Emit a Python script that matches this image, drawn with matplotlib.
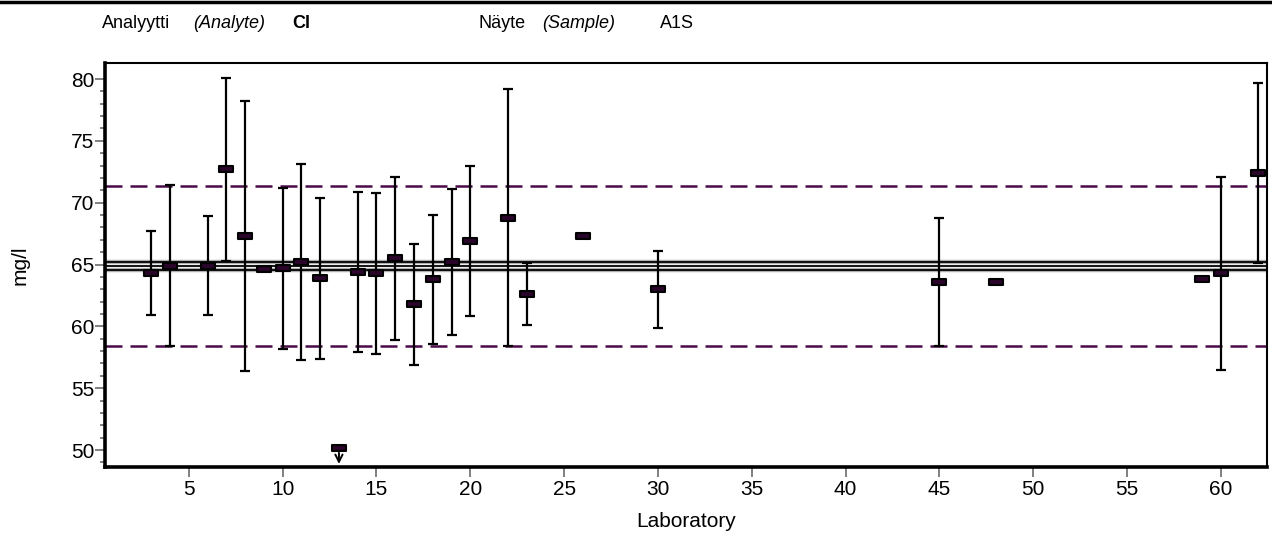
import numpy as np
import matplotlib
matplotlib.use("Agg")
import matplotlib.pyplot as plt
from matplotlib.path import Path
from matplotlib.lines import Line2D

plt.rcParams['font.family'] = ['Liberation Sans', 'DejaVu Sans']

# laboratory results, Cl, sample A1S
labs = [3, 4, 6, 7, 8, 9, 10, 11, 12, 14, 15, 16, 17, 18, 19, 20, 22, 23, 26, 30, 45, 48, 59, 60, 62]
vals = [64.3, 64.9, 64.9, 72.7, 67.3, 64.6, 64.7, 65.2, 63.9, 64.4, 64.3, 65.5, 61.8, 63.8, 65.2,
        66.9, 68.8, 62.6, 67.3, 63.0, 63.6, 63.6, 63.8, 64.3, 72.4]
unc = [3.4, 6.5, 4.0, 7.4, 10.9, 0.0, 6.5, 7.9, 6.5, 6.5, 6.5, 6.6, 4.9, 5.2, 5.9,
       6.1, 10.4, 2.5, 0.0, 3.1, 5.2, 0.0, 0.0, 7.8, 7.3]

# result below the axis range
low_lab = 13
low_val = 50.2

assigned = 64.9
assigned_unc = 0.33
limit = 6.49

purple = '#4a0a4a'
dark = '#2a052a'

fig = plt.figure(figsize=(12.72, 5.38), dpi=100)
ax = fig.add_axes([0.0825, 0.132, 0.9135, 0.751])

ax.axhline(assigned, color='black', lw=1.3, zorder=2)
for off in (-assigned_unc, assigned_unc):
    ax.axhline(assigned + off, color='#b0b0b0', lw=3.2, zorder=1)
    ax.axhline(assigned + off, color='black', lw=1.3, zorder=2)
for off in (-limit, limit):
    ax.axhline(assigned + off, color=purple, lw=1.8, dashes=[6.8, 3.2], zorder=2)

labs_a = np.array(labs)
vals_a = np.array(vals)
unc_a = np.array(unc)
has = unc_a > 0
eb = ax.errorbar(labs_a[has], vals_a[has], yerr=unc_a[has], fmt='none', ecolor='black',
                 elinewidth=1.6, capsize=3.3, capthick=1.6, zorder=3)
for cap in eb[1]:
    cap.set_color(purple)

rect = Path([(-1, -0.42), (1, -0.42), (1, 0.42), (-1, 0.42), (-1, -0.42)],
            [Path.MOVETO, Path.LINETO, Path.LINETO, Path.LINETO, Path.CLOSEPOLY])
ax.plot(labs, vals, ls='none', marker=rect, markersize=10, markerfacecolor=dark,
        markeredgecolor='black', markeredgewidth=1.5, zorder=4)
ax.plot([low_lab], [low_val], ls='none', marker=rect, markersize=10, markerfacecolor=dark,
        markeredgecolor='black', markeredgewidth=1.5, zorder=4)
ax.annotate('', xy=(low_lab, 48.65), xytext=(low_lab, low_val - 0.2),
            arrowprops=dict(arrowstyle='->', color='black', lw=1.4, mutation_scale=13))

ax.set_xlim(0.53, 62.45)
ax.set_ylim(48.63, 81.3)
ax.set_xticks(np.arange(5, 61, 5))
ax.set_yticks(np.arange(50, 81, 5))
ax.set_yticks(np.arange(49, 81, 1), minor=True)
ax.tick_params(axis='both', which='major', labelsize=15, color='#808080', width=1.4)
ax.tick_params(axis='y', which='major', length=7, pad=0.5)
ax.tick_params(axis='y', which='minor', length=3.6, color='#808080', width=1.4)
ax.tick_params(axis='x', which='major', length=7, pad=2.5)

for side in ('left', 'bottom'):
    ax.spines[side].set_linewidth(2.6)
for side in ('top', 'right'):
    ax.spines[side].set_linewidth(1.5)

ax.set_ylabel('mg/l', fontsize=15)
ax.yaxis.set_label_coords(-0.065, 0.5)
ax.set_xlabel('Laboratory', fontsize=15, labelpad=9)

fig.add_artist(Line2D([0, 1], [0.997, 0.997], color='black', lw=2.5, transform=fig.transFigure))

hy = 1 - 28 / 538
fig.text(102 / 1272, hy, 'Analyytti', fontsize=13, va='baseline')
fig.text(193 / 1272, hy, '(Analyte)', fontsize=13, style='italic', va='baseline')
fig.text(292 / 1272, hy, 'Cl', fontsize=13, weight='bold', va='baseline')
fig.text(478 / 1272, hy, 'Näyte', fontsize=13, va='baseline')
fig.text(542 / 1272, hy, '(Sample)', fontsize=13, style='italic', va='baseline')
fig.text(660 / 1272, hy, 'A1S', fontsize=13, va='baseline')

fig.savefig('out.png', dpi=100)
